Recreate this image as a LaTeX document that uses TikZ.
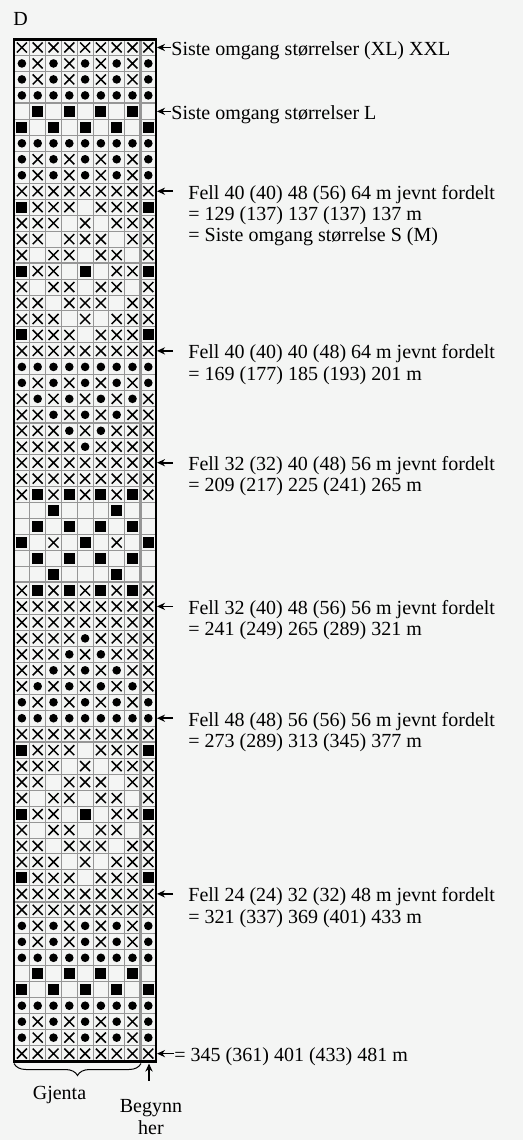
\documentclass[tikz,border=0pt]{standalone}
\usepackage{fontspec}
\setmainfont{Liberation Serif}
\usetikzlibrary{arrows.meta,decorations.pathreplacing}
\definecolor{chartbg}{RGB}{244,245,244}
\definecolor{gridgray}{RGB}{150,150,150}

\begin{document}
\begin{tikzpicture}[x=0.5pt, y=-0.5pt,
    every node/.style={font=\fontsize{10}{12}\selectfont, inner sep=0pt, anchor=base west},
    ptr/.style={-{Stealth[length=4pt,width=3.6pt]}, line width=0.8pt},
    fell/.style={inner xsep=7.5pt}]
\useasboundingbox[fill=chartbg] (0,0) rectangle (523,1140);

% grid lines, thicker every 10 rows from the bottom
\foreach \i in {1,...,63}
  \draw[gridgray, line width=0.5pt] (14,{39.5+\i*15.97}) -- (156.2,{39.5+\i*15.97});
\foreach \i in {1,...,7}
  \draw[gridgray, line width=0.5pt] ({14+\i*15.8},39.5) -- ({14+\i*15.8},1061.6);
\foreach \i in {4,14,...,54}
  \draw[gridgray, line width=1pt] (14,{39.5+\i*15.97}) -- (156.2,{39.5+\i*15.97});
\draw[gridgray, line width=1.5pt] (140.4,39.5) -- (140.4,1061.6);

% 0 = empty, 1 = cross, 2 = dot, 3 = square
\foreach \p [count=\r] in {
  {1,1,1,1,1,1,1,1,1},{2,1,2,1,2,1,2,1,2},{2,1,2,1,2,1,2,1,2},{2,2,2,2,2,2,2,2,2},
  {0,3,0,3,0,3,0,3,0},{3,0,3,0,3,0,3,0,3},{2,2,2,2,2,2,2,2,2},{2,1,2,1,2,1,2,1,2},
  {2,1,2,1,2,1,2,1,2},{1,1,1,1,1,1,1,1,1},{3,1,1,1,0,1,1,1,3},{1,1,1,0,1,0,1,1,1},
  {1,1,0,1,1,1,0,1,1},{1,0,1,1,0,1,1,0,1},{3,1,1,0,3,0,1,1,3},{1,0,1,1,0,1,1,0,1},
  {1,1,0,1,1,1,0,1,1},{1,1,1,0,1,0,1,1,1},{3,1,1,1,0,1,1,1,3},{1,1,1,1,1,1,1,1,1},
  {2,2,2,2,2,2,2,2,2},{2,1,2,1,2,1,2,1,2},{1,2,1,2,1,2,1,2,1},{1,1,2,1,2,1,2,1,1},
  {1,1,1,2,1,2,1,1,1},{1,1,1,1,2,1,1,1,1},{1,1,1,1,1,1,1,1,1},{1,1,1,1,1,1,1,1,1},
  {1,3,1,3,1,3,1,3,1},{0,0,3,0,0,0,3,0,0},{0,3,0,3,0,3,0,3,0},{3,0,1,0,3,0,1,0,3},
  {0,3,0,3,0,3,0,3,0},{0,0,3,0,0,0,3,0,0},{1,3,1,3,1,3,1,3,1},{1,1,1,1,1,1,1,1,1},
  {1,1,1,1,1,1,1,1,1},{1,1,1,1,2,1,1,1,1},{1,1,1,2,1,2,1,1,1},{1,1,2,1,2,1,2,1,1},
  {1,2,1,2,1,2,1,2,1},{2,1,2,1,2,1,2,1,2},{2,2,2,2,2,2,2,2,2},{1,1,1,1,1,1,1,1,1},
  {3,1,1,1,0,1,1,1,3},{1,1,1,0,1,0,1,1,1},{1,1,0,1,1,1,0,1,1},{1,0,1,1,0,1,1,0,1},
  {3,1,1,0,3,0,1,1,3},{1,0,1,1,0,1,1,0,1},{1,1,0,1,1,1,0,1,1},{1,1,1,0,1,0,1,1,1},
  {3,1,1,1,0,1,1,1,3},{1,1,1,1,1,1,1,1,1},{1,1,1,1,1,1,1,1,1},{2,1,2,1,2,1,2,1,2},
  {2,1,2,1,2,1,2,1,2},{2,2,2,2,2,2,2,2,2},{0,3,0,3,0,3,0,3,0},{3,0,3,0,3,0,3,0,3},
  {2,2,2,2,2,2,2,2,2},{2,1,2,1,2,1,2,1,2},{2,1,2,1,2,1,2,1,2},{1,1,1,1,1,1,1,1,1}} {
  \foreach \s [count=\c] in \p {
    \coordinate (m) at ({14+(\c-0.5)*15.8},{39.5+(\r-0.5)*15.97});
    \ifcase\s
    \or \draw[line width=0.75pt] (m) ++(-5,-5) -- ++(10,10) (m) ++(-5,5) -- ++(10,-10);
    \or \fill (m) circle (4.3);
    \or \fill (m) ++(-5.5,-5.5) rectangle ++(11,11);
    \fi
  }
}
\draw[line width=1.2pt] (14,39.5) rectangle (156.2,1061.6);

\node (tit) at (13,25.5) {D};

\node (s1) at (171,55.5) {Siste omgang størrelser (XL) XXL};
\draw[ptr] ([yshift=4pt]s1.base west) -- ++(-14,0);
\node (s2) at (171,119.4) {Siste omgang størrelser L};
\draw[ptr] ([yshift=4pt]s2.base west) -- ++(-14,0);

\node[fell] (f1a) at (173,199.2) {Fell 40 (40) 48 (56) 64 m jevnt fordelt};
\node[fell] (f1b) at ([yshift=-10.6pt]f1a.base west) {= 129 (137) 137 (137) 137 m};
\node[fell] (f1c) at ([yshift=-10.6pt]f1b.base west) {= Siste omgang størrelse S (M)};
\draw[ptr] ([yshift=4pt]f1a.base west) -- ++(-16,0);

\node[fell] (f2a) at (173,358.9) {Fell 40 (40) 40 (48) 64 m jevnt fordelt};
\node[fell] (f2b) at ([yshift=-10.6pt]f2a.base west) {= 169 (177) 185 (193) 201 m};
\draw[ptr] ([yshift=4pt]f2a.base west) -- ++(-16,0);

\node[fell] (f3a) at (173,470.7) {Fell 32 (32) 40 (48) 56 m jevnt fordelt};
\node[fell] (f3b) at ([yshift=-10.6pt]f3a.base west) {= 209 (217) 225 (241) 265 m};
\draw[ptr] ([yshift=4pt]f3a.base west) -- ++(-16,0);

\node[fell] (f4a) at (173,614.4) {Fell 32 (40) 48 (56) 56 m jevnt fordelt};
\node[fell] (f4b) at ([yshift=-10.6pt]f4a.base west) {= 241 (249) 265 (289) 321 m};
\draw[ptr] ([yshift=4pt]f4a.base west) -- ++(-16,0);

\node[fell] (f5a) at (173,726.2) {Fell 48 (48) 56 (56) 56 m jevnt fordelt};
\node[fell] (f5b) at ([yshift=-10.6pt]f5a.base west) {= 273 (289) 313 (345) 377 m};
\draw[ptr] ([yshift=4pt]f5a.base west) -- ++(-16,0);

\node[fell] (f6a) at (173,901.9) {Fell 24 (24) 32 (32) 48 m jevnt fordelt};
\node[fell] (f6b) at ([yshift=-10.6pt]f6a.base west) {= 321 (337) 369 (401) 433 m};
\draw[ptr] ([yshift=4pt]f6a.base west) -- ++(-16,0);

\node (sum) at (174,1061.6) {= 345 (361) 401 (433) 481 m};
\draw[ptr] ([yshift=4pt]sum.base west) -- ++(-17,0);

% repeat and start
\draw[decorate, decoration={brace, mirror, amplitude=6pt}, line width=0.5pt]
  (14,1063.5) -- (141,1063.5);
\node[anchor=base] (gj) at (59.5,1099) {Gjenta};
\node[anchor=base] (bg1) at (151,1112) {Begynn};
\node[anchor=base] (bg2) at ([yshift=-11pt]bg1.base) {her};
\draw[ptr] ([xshift=-1pt,yshift=9pt]bg1.north) -- ++(0,-17);
\end{tikzpicture}
\end{document}
